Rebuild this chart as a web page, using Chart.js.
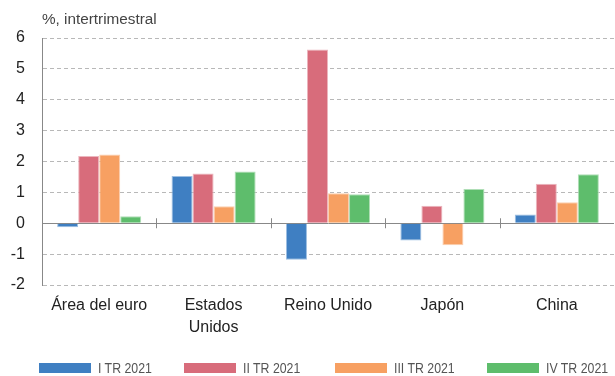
<!DOCTYPE html>
<html>
<head>
<meta charset="utf-8">
<script src="https://cdn.jsdelivr.net/npm/chart.js@4/dist/chart.umd.min.js"></script>
<style>
  body { margin: 0; background: #fff; }
  #wrap { position: relative; width: 615px; height: 376px; }
  #title { position: absolute; left: 42px; top: 10px; font: 15.3px "Liberation Sans", Arial, sans-serif; color: #444; }
  .leg { position: absolute; top: 362px; font: 14px "Liberation Sans", Arial, sans-serif; color: #555; white-space: nowrap; }
  .leg span { position: absolute; top: 1px; width: 52px; height: 10px; }
  .leg b { position: absolute; top: -2px; font-weight: normal; transform: scaleX(0.88); transform-origin: left center; }
</style>
</head>
<body>
<div id="wrap">
  <canvas id="chart" width="615" height="376"></canvas>
  <div id="title">%, intertrimestral</div>
  <div id="legend"></div>
</div>
<script>
// categories and series
const categories = ["Área del euro", ["Estados", "Unidos"], "Reino Unido", "Japón", "China"];
const seriesNames = ["I TR 2021", "II TR 2021", "III TR 2021", "IV TR 2021"];
const q1 = [-0.13, 1.53, -1.18, -0.56, 0.28];
const q2 = [2.18, 1.61, 5.63, 0.57, 1.28];
const q3 = [2.23, 0.55, 0.97, -0.71, 0.68];
const q4 = [0.23, 1.68, 0.94, 1.11, 1.59];
const yTicks = [-2, -1, 0, 1, 2, 3, 4, 5, 6];

const fills = ["#3f7fc2", "#d86c7b", "#f7a062", "#5ebd6c"];
const edges = ["#9dbfe2", "#ecb6be", "#fbcfb0", "#afdeb6"];
const legendX = [39, 184, 335, 487];

// legend (html, under the canvas)
const legendEl = document.getElementById("legend");
seriesNames.forEach((name, i) => {
  const d = document.createElement("div");
  d.className = "leg";
  d.style.left = legendX[i] + "px";
  d.innerHTML = `<span style="background:${fills[i]}"></span><b style="left:59px">${name}</b>`;
  legendEl.appendChild(d);
});

// small tick marks on the zero line between the groups
const zeroTicks = {
  id: "zeroTicks",
  afterDatasetsDraw(chart) {
    const { ctx, scales: { x, y } } = chart;
    const y0 = y.getPixelForValue(0);
    ctx.save();
    ctx.strokeStyle = "#888";
    ctx.lineWidth = 1;
    for (let i = 1; i < categories.length; i++) {
      const xp = Math.round((x.getPixelForValue(i - 1) + x.getPixelForValue(i)) / 2) + 0.5;
      ctx.beginPath();
      ctx.moveTo(xp, y0 - 5);
      ctx.lineTo(xp, y0 + 5);
      ctx.stroke();
    }
    ctx.restore();
  }
};

const data = {
  labels: categories,
  datasets: [q1, q2, q3, q4].map((vals, i) => ({
    label: seriesNames[i],
    data: vals,
    backgroundColor: fills[i],
    borderColor: edges[i],
    borderWidth: 1,
    categoryPercentage: 0.735,
    barPercentage: 1
  }))
};

new Chart(document.getElementById("chart").getContext("2d"), {
  type: "bar",
  data: data,
  plugins: [zeroTicks],
  options: {
    responsive: false,
    animation: false,
    layout: { padding: { top: 38, right: 1, left: 0, bottom: 0 } },
    plugins: { legend: { display: false }, tooltip: { enabled: false } },
    scales: {
      x: {
        grid: { display: false, drawTicks: false },
        border: { display: false },
        ticks: {
          color: "#222",
          padding: 10,
          font: { family: "'Liberation Sans', Arial, sans-serif", size: 16, lineHeight: 1.35 },
          maxRotation: 0,
          autoSkip: false
        },
        afterFit: s => { s.height = 91; }
      },
      y: {
        min: -2,
        max: 6,
        afterBuildTicks: s => { s.ticks = yTicks.map(v => ({ value: v })); },
        grid: {
          drawTicks: false,
          color: c => c.tick && c.tick.value === 0 ? "#888" : "#b8b8b8",
          lineWidth: 1
        },
        border: {
          display: true,
          color: "#888",
          width: 1,
          dash: c => c.tick && c.tick.value === 0 ? [] : [4, 3]
        },
        ticks: {
          color: "#222",
          padding: 17,
          font: { family: "'Liberation Sans', Arial, sans-serif", size: 16 }
        },
        afterFit: s => { s.width = 42; }
      }
    }
  }
});
</script>
</body>
</html>
